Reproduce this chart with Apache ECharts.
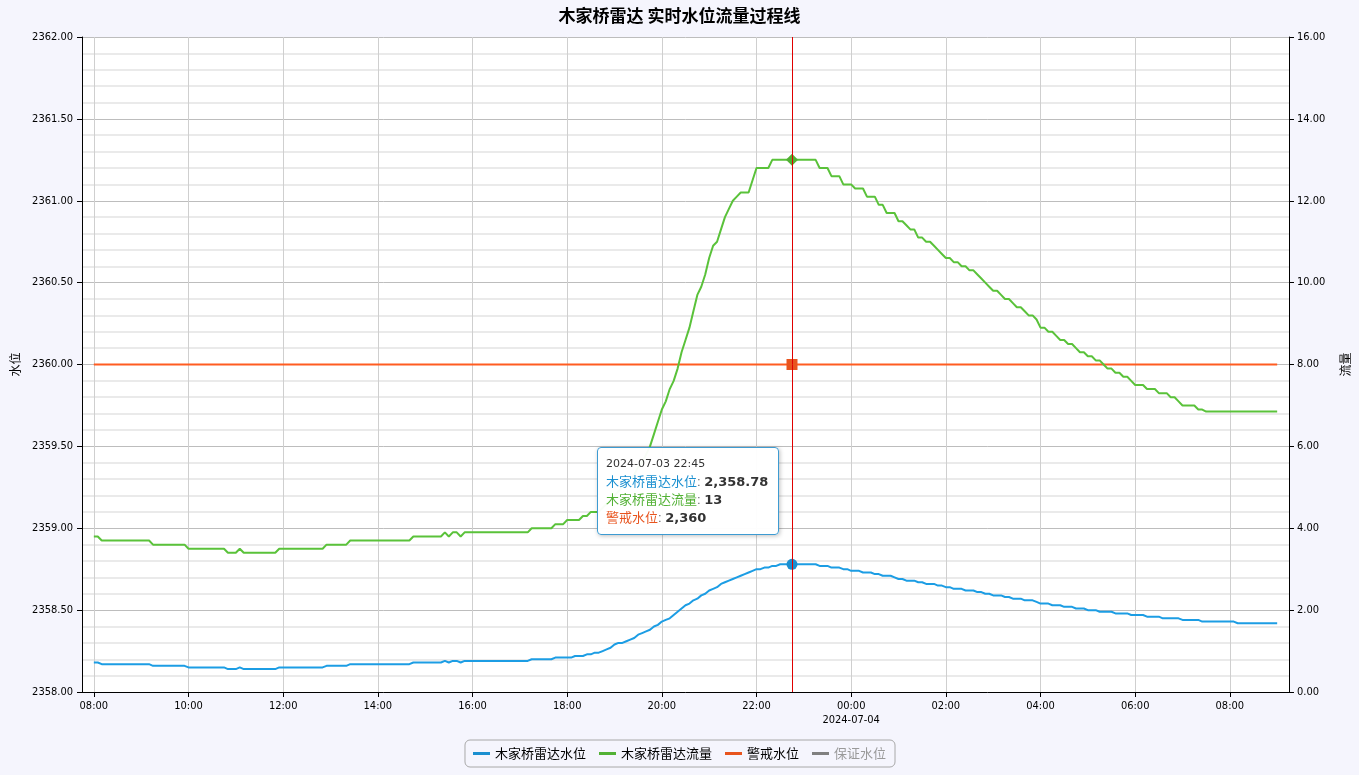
<!DOCTYPE html>
<html><head><meta charset="utf-8">
<script src="https://cdn.jsdelivr.net/npm/echarts@6/dist/echarts.min.js"></script>
<style>html,body{margin:0;padding:0;background:#f5f5fd;}#c{width:1359px;height:775px;}</style>
</head><body><div id="c"></div>
<script>
// ---- data (5-minute samples from 2024-07-03 08:00 to 2024-07-04 09:00) ----
const titleText = '木家桥雷达 实时水位流量过程线';
const seriesNames = ['木家桥雷达水位', '木家桥雷达流量', '警戒水位', '保证水位'];
const startYear = 2024, startMonth = 7, startDay = 3, startHour = 8;
const stepMinutes = 5;
const levelData = [
 2358.18,2358.18,2358.17,2358.17,2358.17,2358.17,2358.17,2358.17,2358.17,2358.17,2358.17,2358.17,
 2358.17,2358.17,2358.17,2358.16,2358.16,2358.16,2358.16,2358.16,2358.16,2358.16,2358.16,2358.16,
 2358.15,2358.15,2358.15,2358.15,2358.15,2358.15,2358.15,2358.15,2358.15,2358.15,2358.14,2358.14,
 2358.14,2358.15,2358.14,2358.14,2358.14,2358.14,2358.14,2358.14,2358.14,2358.14,2358.14,2358.15,
 2358.15,2358.15,2358.15,2358.15,2358.15,2358.15,2358.15,2358.15,2358.15,2358.15,2358.15,2358.16,
 2358.16,2358.16,2358.16,2358.16,2358.16,2358.17,2358.17,2358.17,2358.17,2358.17,2358.17,2358.17,
 2358.17,2358.17,2358.17,2358.17,2358.17,2358.17,2358.17,2358.17,2358.17,2358.18,2358.18,2358.18,
 2358.18,2358.18,2358.18,2358.18,2358.18,2358.19,2358.18,2358.19,2358.19,2358.18,2358.19,2358.19,
 2358.19,2358.19,2358.19,2358.19,2358.19,2358.19,2358.19,2358.19,2358.19,2358.19,2358.19,2358.19,
 2358.19,2358.19,2358.19,2358.20,2358.20,2358.20,2358.20,2358.20,2358.20,2358.21,2358.21,2358.21,
 2358.21,2358.21,2358.22,2358.22,2358.22,2358.23,2358.23,2358.24,2358.24,2358.25,2358.26,2358.27,
 2358.29,2358.30,2358.30,2358.31,2358.32,2358.33,2358.35,2358.36,2358.37,2358.38,2358.40,2358.41,
 2358.43,2358.44,2358.45,2358.47,2358.49,2358.51,2358.53,2358.54,2358.56,2358.57,2358.59,2358.60,
 2358.62,2358.63,2358.64,2358.66,2358.67,2358.68,2358.69,2358.70,2358.71,2358.72,2358.73,2358.74,
 2358.75,2358.75,2358.76,2358.76,2358.77,2358.77,2358.78,2358.78,2358.78,2358.78,2358.78,2358.78,
 2358.78,2358.78,2358.78,2358.78,2358.77,2358.77,2358.77,2358.76,2358.76,2358.76,2358.75,2358.75,
 2358.74,2358.74,2358.74,2358.73,2358.73,2358.73,2358.72,2358.72,2358.71,2358.71,2358.71,2358.70,
 2358.69,2358.69,2358.68,2358.68,2358.68,2358.67,2358.67,2358.66,2358.66,2358.66,2358.65,2358.65,
 2358.64,2358.64,2358.63,2358.63,2358.63,2358.62,2358.62,2358.62,2358.61,2358.61,2358.60,2358.60,
 2358.59,2358.59,2358.59,2358.58,2358.58,2358.57,2358.57,2358.57,2358.56,2358.56,2358.56,2358.55,
 2358.54,2358.54,2358.54,2358.53,2358.53,2358.53,2358.52,2358.52,2358.52,2358.51,2358.51,2358.51,
 2358.50,2358.50,2358.50,2358.49,2358.49,2358.49,2358.49,2358.48,2358.48,2358.48,2358.48,2358.47,
 2358.47,2358.47,2358.47,2358.46,2358.46,2358.46,2358.46,2358.45,2358.45,2358.45,2358.45,2358.45,
 2358.44,2358.44,2358.44,2358.44,2358.44,2358.43,2358.43,2358.43,2358.43,2358.43,2358.43,2358.43,
 2358.43,2358.43,2358.42,2358.42,2358.42,2358.42,2358.42,2358.42,2358.42,2358.42,2358.42,2358.42,
 2358.42
];
const flowData = [
 3.8,3.8,3.7,3.7,3.7,3.7,3.7,3.7,3.7,3.7,3.7,3.7,
 3.7,3.7,3.7,3.6,3.6,3.6,3.6,3.6,3.6,3.6,3.6,3.6,
 3.5,3.5,3.5,3.5,3.5,3.5,3.5,3.5,3.5,3.5,3.4,3.4,
 3.4,3.5,3.4,3.4,3.4,3.4,3.4,3.4,3.4,3.4,3.4,3.5,
 3.5,3.5,3.5,3.5,3.5,3.5,3.5,3.5,3.5,3.5,3.5,3.6,
 3.6,3.6,3.6,3.6,3.6,3.7,3.7,3.7,3.7,3.7,3.7,3.7,
 3.7,3.7,3.7,3.7,3.7,3.7,3.7,3.7,3.7,3.8,3.8,3.8,
 3.8,3.8,3.8,3.8,3.8,3.9,3.8,3.9,3.9,3.8,3.9,3.9,
 3.9,3.9,3.9,3.9,3.9,3.9,3.9,3.9,3.9,3.9,3.9,3.9,
 3.9,3.9,3.9,4.0,4.0,4.0,4.0,4.0,4.0,4.1,4.1,4.1,
 4.2,4.2,4.2,4.2,4.3,4.3,4.4,4.4,4.4,4.5,4.6,4.7,
 4.8,4.9,5.0,5.1,5.2,5.3,5.5,5.6,5.8,6.0,6.3,6.6,
 6.9,7.1,7.4,7.6,7.9,8.3,8.6,8.9,9.3,9.7,9.9,10.2,
 10.6,10.9,11.0,11.3,11.6,11.8,12.0,12.1,12.2,12.2,12.2,12.5,
 12.8,12.8,12.8,12.8,13,13,13,13,13,13,13,13,
 13,13,13,13,12.8,12.8,12.8,12.6,12.6,12.6,12.4,12.4,
 12.4,12.3,12.3,12.3,12.1,12.1,12.1,11.9,11.9,11.7,11.7,11.7,
 11.5,11.5,11.4,11.3,11.3,11.1,11.1,11.0,11.0,10.9,10.8,10.7,
 10.6,10.6,10.5,10.5,10.4,10.4,10.3,10.3,10.2,10.1,10.0,9.9,
 9.8,9.8,9.7,9.6,9.6,9.5,9.4,9.4,9.3,9.2,9.2,9.1,
 8.9,8.9,8.8,8.8,8.7,8.6,8.6,8.5,8.5,8.4,8.3,8.3,
 8.2,8.2,8.1,8.1,8.0,7.9,7.9,7.8,7.8,7.7,7.7,7.6,
 7.5,7.5,7.5,7.4,7.4,7.4,7.3,7.3,7.3,7.2,7.2,7.1,
 7.0,7.0,7.0,7.0,6.9,6.9,6.85,6.85,6.85,6.85,6.85,6.85,
 6.85,6.85,6.85,6.85,6.85,6.85,6.85,6.85,6.85,6.85,6.85,6.85,
 6.85
];
const warningLevel = 2360;
const tooltipTime = '22:45';
const leftAxis = { name: '水位', min: 2358, max: 2362, interval: 0.5 };
const rightAxis = { name: '流量', min: 0, max: 16, interval: 2 };

// ---- build ----
const t0 = new Date(startYear, startMonth - 1, startDay, startHour, 0, 0).getTime();
const times = levelData.map((_, i) => t0 + i * stepMinutes * 60000);
const pad = n => String(n).padStart(2, '0');
const fmtDate = d => d.getFullYear() + '-' + pad(d.getMonth() + 1) + '-' + pad(d.getDate());
const levelSeries = times.map((t, i) => [t, levelData[i]]);
const flowSeries = times.map((t, i) => [t, flowData[i]]);
const warnSeries = times.map(t => [t, warningLevel]);
const tipIndex = times.findIndex(t => { const d = new Date(t); return pad(d.getHours()) + ':' + pad(d.getMinutes()) === tooltipTime && d.getDate() === startDay; });
const padMs = 15 * 60000;

const colors = ['#1a8fd0', '#52b135', '#e8541e', '#808080'];
const axisFont = '"DejaVu Sans Condensed", "Liberation Sans", sans-serif';
const cjk = '"Noto Sans CJK SC", sans-serif';

const chart = echarts.init(document.getElementById('c'), null, { renderer: 'canvas' });
chart.setOption({
  backgroundColor: '#f5f5fd',
  animation: false,
  color: colors,
  title: {
    text: titleText, left: 'center', top: 2,
    textStyle: { fontSize: 17, fontWeight: 'bold', color: '#000', fontFamily: cjk }
  },
  grid: { left: 82, right: 69, top: 37, bottom: 83, show: true, backgroundColor: '#ffffff', borderWidth: 0 },
  legend: {
    bottom: 8, left: 'center',
    data: [
      { name: seriesNames[0] }, { name: seriesNames[1] }, { name: seriesNames[2] },
      { name: seriesNames[3], textStyle: { color: '#9a9a9a' } }
    ],
    icon: 'rect', itemWidth: 17, itemHeight: 3, itemGap: 13,
    borderColor: '#a8a8a8', borderWidth: 1, borderRadius: 5, padding: [7, 9, 7, 8],
    textStyle: { fontSize: 13, color: '#000', fontFamily: cjk }
  },
  tooltip: {
    trigger: 'axis', triggerOn: 'none', alwaysShowContent: true,
    position: function () { return [597, 447]; },
    backgroundColor: 'rgba(255,255,255,0.96)', borderColor: '#3d9bd2', borderWidth: 1.5,
    padding: [8, 10, 8, 8],
    extraCssText: 'border-radius:4px;box-shadow:1px 1px 4px rgba(0,0,0,0.25);',
    axisPointer: { type: 'line', lineStyle: { color: '#e00000', width: 1, type: 'solid' } },
    formatter: function (params) {
      const d = new Date(params[0].axisValue);
      let s = '<div style="font-family:DejaVu Sans,sans-serif;font-size:11px;color:#333;line-height:16px">' +
        fmtDate(d) + ' ' + pad(d.getHours()) + ':' + pad(d.getMinutes()) + '</div>';
      params.forEach(p => {
        if (!p.value) return;
        s += '<div style="line-height:17px;font-size:13px"><span style="font-family:' + cjk.replace(/"/g, "'") + ';color:' + p.color + '">' +
          p.seriesName + '</span>: <b style="font-family:DejaVu Sans,sans-serif;color:#333">' +
          p.value[1].toLocaleString('en-US') + '</b></div>';
      });
      return s;
    }
  },
  xAxis: {
    type: 'time',
    min: times[0] - padMs, max: times[times.length - 1] + padMs,
    minInterval: 2.5 * 3600000, maxInterval: 2.5 * 3600000,
    axisLine: { lineStyle: { color: '#000', width: 1 } },
    axisTick: { show: true, length: 5, lineStyle: { color: '#000' } },
    axisLabel: {
      color: '#000', fontSize: 11, fontFamily: axisFont, margin: 7, lineHeight: 14,
      formatter: function (v) {
        const d = new Date(v);
        const hm = pad(d.getHours()) + ':' + pad(d.getMinutes());
        return hm === '00:00' ? hm + '\n' + fmtDate(d) : hm;
      }
    },
    splitLine: { show: true, lineStyle: { color: '#cfcfcf', width: 1 } }
  },
  yAxis: [
    {
      type: 'value', name: leftAxis.name, nameLocation: 'middle', nameGap: 60,
      nameTextStyle: { color: '#000', fontSize: 12, fontFamily: cjk },
      min: leftAxis.min, max: leftAxis.max, interval: leftAxis.interval,
      axisLine: { show: true, lineStyle: { color: '#000' } },
      axisTick: { show: true, length: 5, lineStyle: { color: '#000' } },
      axisLabel: { color: '#000', fontSize: 11, fontFamily: axisFont, margin: 9, formatter: v => v.toFixed(2) },
      splitLine: { show: true, lineStyle: { color: '#bdbdbd', width: 1 } },
      minorTick: { show: false, splitNumber: 5 },
      minorSplitLine: { show: true, lineStyle: { color: '#e3e3e3', width: 1.5 } }
    },
    {
      type: 'value', name: rightAxis.name, nameLocation: 'middle', nameGap: 50,
      nameTextStyle: { color: '#000', fontSize: 12, fontFamily: cjk },
      min: rightAxis.min, max: rightAxis.max, interval: rightAxis.interval,
      axisLine: { show: true, lineStyle: { color: '#000' } },
      axisTick: { show: true, length: 5, lineStyle: { color: '#000' } },
      axisLabel: { color: '#000', fontSize: 11, fontFamily: axisFont, margin: 8, formatter: v => v.toFixed(2) },
      splitLine: { show: false }
    }
  ],
  series: [
    { name: seriesNames[0], type: 'line', yAxisIndex: 0, data: levelSeries, showSymbol: false,
      symbol: 'circle', symbolSize: 10, lineStyle: { width: 2, color: colors[0] }, itemStyle: { color: colors[0] },
      emphasis: { scale: 1.1, lineStyle: { width: 2 } }, z: 3 },
    { name: seriesNames[1], type: 'line', yAxisIndex: 1, data: flowSeries, showSymbol: false,
      symbol: 'diamond', symbolSize: 11, lineStyle: { width: 2, color: colors[1] }, itemStyle: { color: colors[1] },
      emphasis: { scale: 1.1, lineStyle: { width: 2 } }, z: 3 },
    { name: seriesNames[2], type: 'line', yAxisIndex: 0, data: warnSeries, showSymbol: false,
      symbol: 'rect', symbolSize: 10, lineStyle: { width: 2, color: colors[2] }, itemStyle: { color: colors[2] },
      emphasis: { scale: 1.1, lineStyle: { width: 2 } }, z: 2 },
    { name: seriesNames[3], type: 'line', yAxisIndex: 0, data: [], showSymbol: false,
      lineStyle: { width: 2, color: colors[3] }, itemStyle: { color: colors[3] } }
  ]
});
chart.dispatchAction({ type: 'showTip', seriesIndex: 0, dataIndex: tipIndex });
</script>
</body></html>
